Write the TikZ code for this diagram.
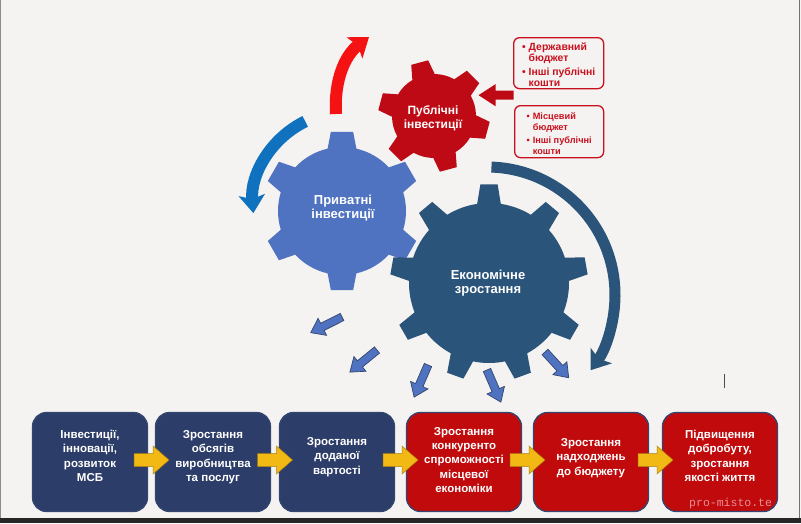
\documentclass[tikz,border=0pt]{standalone}
\usepackage{fontspec}
\setmainfont{Liberation Sans}
\newfontfamily\wmfont{Liberation Mono}
\usetikzlibrary{arrows.meta,calc}

\definecolor{bgcol}{HTML}{F4F3F1}
\definecolor{privblue}{HTML}{4F73C0}
\definecolor{pubred}{HTML}{BE0A14}
\definecolor{econnavy}{HTML}{2A5479}
\definecolor{arrblue}{HTML}{1072BE}
\definecolor{arrred}{HTML}{F51212}
\definecolor{boxnavy}{HTML}{2D3D69}
\definecolor{boxred}{HTML}{C00A0C}
\definecolor{boxedge}{HTML}{34466F}
\definecolor{gold}{HTML}{F2B915}
\definecolor{listred}{HTML}{C8101E}
\definecolor{wmpink}{HTML}{F0B0B8}

% text lifted inside a box without changing the box size
\newcommand\lifted[2]{\raisebox{#1}[\height][\depth]{\begin{tabular}{@{}c@{}}#2\end{tabular}}}
\newcommand\bullets[2]{\raisebox{#1}[\height][\depth]{\begin{tabular}{@{}l@{\hspace{3pt}}l@{}}#2\end{tabular}}}

\tikzset{
  geartext/.style={text=white, font=\bfseries\fontsize{13}{14}\selectfont, align=center},
  stepbox/.style={rounded corners=14pt, draw=boxedge, line width=1.3pt,
    minimum width=115pt, minimum height=99pt, text=white,
    font=\bfseries\fontsize{11.5}{14.3}\selectfont, inner sep=2pt},
  navybox/.style={stepbox, fill=boxnavy},
  redbox/.style={stepbox, fill=boxred},
  listbox/.style={draw=listred, line width=1.3pt, rounded corners=6pt,
    text=listred, font=\bfseries, inner sep=2pt, anchor=north west},
  bigarrow/.style={line width=12pt, -{Stealth[length=18pt,width=26pt,inset=4pt]}},
  pics/smallarrow/.style={code={
    \filldraw[fill=privblue, draw=boxedge, line width=0.7pt]
      (0,-4) -- (22,-4) -- (22,-9.5) -- (35,0) -- (22,9.5) -- (22,4) -- (0,4) -- cycle;}},
  pics/goldarrow/.style={code={
    \filldraw[fill=gold, draw=gold!70!black, line width=0.5pt]
      (-17.5,-6.5) -- (1.5,-6.5) -- (1.5,-14) -- (17.5,0) -- (1.5,14) -- (1.5,6.5) -- (-17.5,6.5) -- cycle;}},
  pics/feedarrow/.style={code={
    \fill[pubred]
      (0,-4.5) -- (18,-4.5) -- (18,-11) -- (35,0) -- (18,11) -- (18,4.5) -- (0,4.5) -- cycle;}}
}

\begin{document}
\begin{tikzpicture}[x=1pt, y=-1pt]
  \useasboundingbox (0,0) rectangle (801,523);
  \fill[bgcol] (0,0) rectangle (801,523);
  \fill[black!85] (0,517.5) rectangle (801,523);
  \fill[black!45] (0,0) rectangle (1,517.5);
  \draw[black!55, line width=1pt] (799,0) -- (799,517.5);

  % gear centres
  \coordinate (privc) at (342,211);
  \coordinate (pubc) at (434,116);
  \coordinate (econc) at (489,283);

  % turning arrows
  \draw[bigarrow, arrred] (336,114) .. controls (334,80) and (345,55) .. (369,37);
  \draw[bigarrow, arrblue] ($(privc)+(4,-6)+(-116:93)$) arc[start angle=-116, end angle=-185, radius=93];
  \draw[bigarrow, econnavy, line width=11pt] ($(econc)+(-2,12)+(-88:128)$) arc[start angle=-88, end angle=36, radius=128];

  % gears
  \begin{scope}[shift={(privc)}]
    \fill[privblue] (-103:64) \foreach \a in {-90,-30,...,210} {
      -- (\a-13:64) -- (\a-8:80) -- (\a+8:80) -- (\a+13:64)
      arc[start angle=\a+13, end angle=\a+47, radius=64] } -- cycle;
  \end{scope}
  \begin{scope}[shift={(pubc)}]
    \fill[pubred] (-121:42) \foreach \a in {-105,-45,...,195} {
      -- (\a-16:42) -- (\a-9:56) -- (\a+9:56) -- (\a+16:42)
      arc[start angle=\a+16, end angle=\a+44, radius=42] } -- cycle;
  \end{scope}
  \begin{scope}[shift={(econc)}]
    \fill[econnavy] (-98.5:80) \foreach \a in {-90,-50,...,230} {
      -- (\a-8.5:80) -- (\a-5:99) -- (\a+5:99) -- (\a+8.5:80)
      arc[start angle=\a+8.5, end angle=\a+31.5, radius=80] } -- cycle;
  \end{scope}

  \node[geartext] (priv) at (343,208) {Приватні\\інвестиції};
  \node[geartext, font=\bfseries\fontsize{12}{14}\selectfont] (pub) at (433,118) {Публічні\\інвестиції};
  \node[geartext] (econ) at (488,283) {Економічне\\зростання};

  % sources of public money
  \node[listbox, minimum width=90pt, minimum height=51pt] (statelist) at (513,37)
    {\fontsize{10.4}{11}\selectfont\bullets{-3pt}{•&Державний\\&бюджет\\[3pt]•&Інші публічні\\&кошти}};
  \node[listbox, minimum width=89pt, minimum height=52pt] (locallist) at (514,105)
    {\fontsize{9.2}{11}\selectfont\bullets{-3pt}{•&Місцевий\\&бюджет\\[2pt]•&Інші публічні\\&кошти}};
  \pic[rotate=180] at ($(statelist.south west)!.5!(locallist.north west)+(0,-2)$) {feedarrow};

  % effects of growth
  \pic[rotate=206.6] at (342,317) {smallarrow};
  \pic[rotate=219.2] at (377,350) {smallarrow};
  \pic[rotate=246.6] at (428,365) {smallarrow};
  \pic[rotate=293.4] at (487,370) {smallarrow};
  \pic[rotate=312.6] at (545,352) {smallarrow};

  % chain of results
  \node[navybox] (invest) at (90,462) {\lifted{5pt}{Інвестиції,\\інновації,\\розвиток\\МСБ}};
  \node[navybox] (output) at (213,462) {\lifted{5pt}{Зростання\\обсягів\\виробництва\\та послуг}};
  \node[navybox] (value) at (337,462) {\lifted{5pt}{Зростання\\доданої\\вартості}};
  \node[redbox] (compet) at (464,462) {\lifted{1pt}{Зростання\\конкуренто\\спроможності\\місцевої\\економіки}};
  \node[redbox] (budget) at (591,462) {\lifted{4pt}{Зростання\\надходжень\\до бюджету}};
  \node[redbox] (welfare) at (720,462) {\lifted{5pt}{Підвищення\\добробуту,\\зростання\\якості життя}};
  \foreach \l/\r in {invest/output, output/value, value/compet, compet/budget, budget/welfare}
    \pic at ($(\l.east)!.5!(\r.west)+(0,-2)$) {goldarrow};

  \node[font=\wmfont\fontsize{11.5}{12}\selectfont, text=wmpink, text opacity=0.8,
    anchor=base west, inner sep=0pt] (mark) at (689,506) {pro-misto.te};
  \draw[black!70, line width=0.8pt] (724,374) -- (724,388);
\end{tikzpicture}
\end{document}
